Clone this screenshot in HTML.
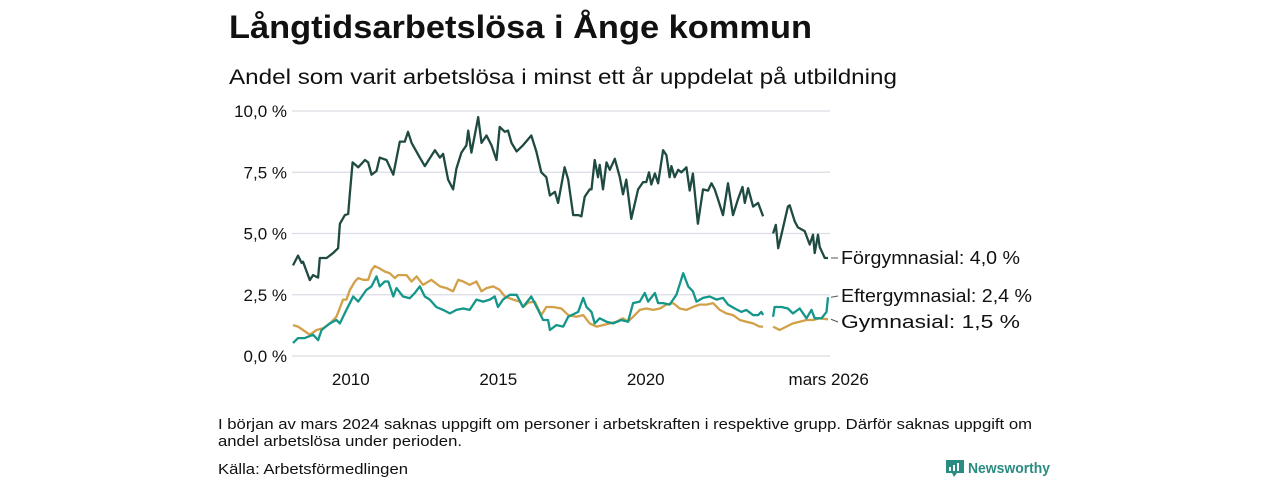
<!DOCTYPE html>
<html><head><meta charset="utf-8"><style>
body{margin:0;background:#fff;}
svg{display:block;font-family:"Liberation Sans",sans-serif;}
</style></head><body>
<svg id="chart" width="1280" height="480" viewBox="0 0 1280 480" xmlns="http://www.w3.org/2000/svg">
<text x="229" y="38" font-size="32" font-weight="bold" fill="#111" textLength="583" lengthAdjust="spacingAndGlyphs">Långtidsarbetslösa i Ånge kommun</text>
<text x="229" y="84" font-size="21" fill="#111" textLength="668" lengthAdjust="spacingAndGlyphs">Andel som varit arbetslösa i minst ett år uppdelat på utbildning</text>
<g id="grid"></g><g id="lines"></g><g id="labels"></g>
<text x="218" y="429" font-size="15" fill="#111" textLength="814" lengthAdjust="spacingAndGlyphs">I början av mars 2024 saknas uppgift om personer i arbetskraften i respektive grupp. Därför saknas uppgift om</text>
<text x="218" y="446" font-size="15" fill="#111" textLength="244" lengthAdjust="spacingAndGlyphs">andel arbetslösa under perioden.</text>
<text x="218" y="474" font-size="15" fill="#111" textLength="190" lengthAdjust="spacingAndGlyphs">Källa: Arbetsförmedlingen</text>
<g>
<path d="M946 460h18v13h-7l-3 4-2-4h-6z" fill="#2a8c80"/>
<rect x="949" y="467" width="2" height="4" fill="#fff"/><rect x="953" y="465" width="2" height="6" fill="#fff"/><rect x="957" y="463" width="2" height="8" fill="#fff"/>
<text x="968" y="473" font-size="15" font-weight="bold" fill="#2a8c80" textLength="82" lengthAdjust="spacingAndGlyphs">Newsworthy</text>
</g>
</svg>
<script>
const yTicks=[0,2.5,5,7.5,10];
const yTickLabels=["0,0 %","2,5 %","5,0 %","7,5 %","10,0 %"];
const xTicks=[2010,2015,2020,2026.17];
const xTickLabels=["2010","2015","2020","mars 2026"];
const forgYears=[2008.04,2008.21,2008.33,2008.38,2008.61,2008.72,2008.89,2008.95,2009.18,2009.40,2009.57,2009.63,2009.80,2009.91,2009.97,2010.06,2010.25,2010.48,2010.59,2010.70,2010.87,2010.98,2011.21,2011.44,2011.66,2011.83,2011.94,2012.06,2012.34,2012.51,2012.85,2013.02,2013.13,2013.30,2013.47,2013.58,2013.75,2013.92,2013.98,2014.09,2014.20,2014.32,2014.43,2014.60,2014.77,2014.94,2015.05,2015.22,2015.33,2015.45,2015.62,2015.84,2016.12,2016.29,2016.46,2016.63,2016.75,2016.92,2017.03,2017.25,2017.37,2017.54,2017.71,2017.82,2017.93,2018.10,2018.16,2018.27,2018.38,2018.44,2018.55,2018.67,2018.78,2018.95,2019.12,2019.23,2019.34,2019.51,2019.74,2019.91,2020.02,2020.11,2020.19,2020.31,2020.42,2020.59,2020.70,2020.81,2020.87,2020.98,2021.10,2021.21,2021.38,2021.49,2021.60,2021.77,2021.94,2022.11,2022.23,2022.34,2022.45,2022.62,2022.79,2022.96,2023.13,2023.28,2023.36,2023.47,2023.64,2023.81,2023.98,2024.15,2024.32,2024.41,2024.49,2024.60,2024.82,2024.88,2025.05,2025.16,2025.39,2025.56,2025.67,2025.73,2025.84,2025.90,2026.07,2026.18];
const forgValues=[3.7,4.1,3.8,3.85,3.1,3.3,3.2,4.0,4.0,4.2,4.4,5.4,5.75,5.8,6.65,7.9,7.7,8.0,7.9,7.4,7.55,8.1,8.0,7.4,8.75,8.75,9.15,8.7,8.1,7.75,8.4,8.1,8.25,7.2,6.8,7.65,8.3,8.6,9.2,8.3,9.0,9.75,8.7,9.0,8.6,8.0,9.35,9.15,9.2,8.7,8.35,8.6,9.0,8.35,7.5,7.3,6.55,6.7,6.25,7.7,7.2,5.75,5.75,5.7,6.5,6.8,6.8,8.0,7.3,7.8,6.8,7.9,7.6,8.05,7.3,6.6,7.2,5.6,6.8,7.1,7.1,7.5,7.0,7.45,7.05,8.4,8.2,7.3,7.75,7.3,7.6,7.5,7.7,6.75,7.45,5.4,6.8,6.75,7.05,6.8,6.4,5.75,7.05,5.75,6.4,6.9,6.25,6.85,6.1,6.25,5.7,null,5.0,5.35,4.4,4.95,6.1,6.15,5.5,5.25,5.1,4.55,4.95,4.2,4.95,4.45,4.0,4.0];
const efterYears=[2008.04,2008.21,2008.44,2008.72,2008.89,2009.01,2009.29,2009.51,2009.63,2009.85,2010.08,2010.25,2010.53,2010.70,2010.87,2010.98,2011.15,2011.27,2011.44,2011.55,2011.77,2012.00,2012.17,2012.34,2012.51,2012.68,2012.90,2013.13,2013.36,2013.58,2013.81,2014.03,2014.26,2014.49,2014.71,2014.88,2014.99,2015.16,2015.39,2015.62,2015.84,2016.12,2016.35,2016.52,2016.69,2016.75,2016.97,2017.20,2017.37,2017.71,2017.88,2017.99,2018.16,2018.27,2018.44,2018.67,2018.89,2019.17,2019.40,2019.57,2019.80,2019.97,2020.08,2020.31,2020.42,2020.59,2020.81,2021.04,2021.27,2021.44,2021.60,2021.72,2021.94,2022.17,2022.40,2022.62,2022.79,2023.02,2023.24,2023.41,2023.64,2023.81,2023.92,2023.98,2024.15,2024.32,2024.37,2024.60,2024.82,2024.99,2025.22,2025.45,2025.62,2025.73,2025.96,2026.13,2026.18];
const efterValues=[0.53,0.73,0.73,0.87,0.65,1.06,1.33,1.47,1.33,1.88,2.43,2.22,2.7,2.84,3.25,2.84,3.04,3.04,2.43,2.77,2.43,2.36,2.57,2.84,2.43,2.3,2.0,1.88,1.74,1.88,1.94,1.88,2.3,2.22,2.3,2.43,2.0,2.3,2.5,2.5,2.0,2.43,1.88,1.47,1.47,1.06,1.26,1.2,1.6,1.8,2.37,2.0,1.8,1.33,1.54,1.4,1.33,1.47,1.4,2.16,2.22,2.57,2.22,2.57,2.16,2.16,2.1,2.5,3.38,2.84,2.64,2.22,2.37,2.43,2.3,2.37,2.1,1.94,1.8,1.88,1.67,1.67,1.8,1.67,null,1.6,2.0,2.0,1.94,1.74,1.94,1.54,1.88,1.54,1.54,1.8,2.4];
const gymYears=[2008.04,2008.21,2008.38,2008.61,2008.84,2009.06,2009.29,2009.51,2009.74,2009.85,2009.97,2010.14,2010.25,2010.42,2010.59,2010.70,2010.81,2010.98,2011.15,2011.32,2011.49,2011.60,2011.89,2012.06,2012.23,2012.45,2012.73,2013.02,2013.24,2013.47,2013.64,2013.81,2014.03,2014.26,2014.43,2014.60,2014.83,2015.05,2015.22,2015.50,2015.73,2015.84,2016.01,2016.24,2016.46,2016.63,2016.86,2017.14,2017.37,2017.65,2017.88,2018.10,2018.33,2018.55,2018.78,2019.01,2019.23,2019.40,2019.57,2019.80,2020.02,2020.25,2020.48,2020.70,2020.93,2021.15,2021.38,2021.60,2021.83,2022.06,2022.28,2022.51,2022.73,2022.96,2023.19,2023.41,2023.64,2023.86,2023.98,2024.15,2024.32,2024.54,2024.77,2024.99,2025.22,2025.45,2025.67,2025.90,2026.18];
const gymValues=[1.26,1.2,1.06,0.87,1.06,1.13,1.33,1.6,2.3,2.3,2.7,3.04,3.18,3.11,3.11,3.5,3.67,3.57,3.45,3.38,3.18,3.3,3.3,3.04,3.25,2.9,3.11,2.84,2.77,2.64,3.11,3.04,2.9,3.04,2.64,2.77,2.84,2.7,2.43,2.3,2.22,2.0,2.18,2.22,1.67,2.0,2.0,1.94,1.67,1.6,1.67,1.33,1.2,1.26,1.33,1.4,1.54,1.4,1.6,1.88,1.94,1.88,1.94,2.1,2.16,1.94,1.88,2.0,2.1,2.1,2.16,1.88,1.74,1.67,1.47,1.4,1.33,1.2,1.2,null,1.2,1.06,1.2,1.33,1.4,1.47,1.47,1.54,1.5];
const seriesNames=["Förgymnasial","Eftergymnasial","Gymnasial"];
const lastLabels=["4,0 %","2,4 %","1,5 %"];

const NS="http://www.w3.org/2000/svg";
const X0=293,X1=828,Y0=356,Y1=111;
const xMin=2008.04,xMax=2026.18;
const xs=v=>X0+(v-xMin)/(xMax-xMin)*(X1-X0);
const ys=v=>Y0-(v/10)*(Y0-Y1);
function mk(tag,attrs,parent){const e=document.createElementNS(NS,tag);for(const k in attrs)e.setAttribute(k,attrs[k]);parent.appendChild(e);return e;}
const grid=document.getElementById('grid');
yTicks.forEach((t,i)=>{
  const l=mk('line',{x1:292,x2:830,y1:ys(t),y2:ys(t),stroke:'#dcdce4','stroke-width':1.3},grid);
  
  
  const tx=mk('text',{x:287,y:ys(t)+6,'text-anchor':'end','font-size':17,fill:'#111'},grid);
  tx.textContent=yTickLabels[i];
  
  
});
xTicks.forEach((t,i)=>{
  const tx=mk('text',{x:xs(t)+(i==3?1:0),y:385,'text-anchor':'middle','font-size':17,fill:'#111'},grid);
  tx.textContent=xTickLabels[i];
  
  
});
const lines=document.getElementById('lines');
const cols=['#1f4a42','#14968a','#d2a048'];
const sets=[[forgYears,forgValues],[efterYears,efterValues],[gymYears,gymValues]];
const order=[2,1,0];
order.forEach(si=>{
  const [yrs,vals]=sets[si];let d='',pen=false;
  yrs.forEach((y,i)=>{const v=vals[i];if(v===null){pen=false;return;}d+=(pen?'L':'M')+xs(y).toFixed(1)+' '+ys(v).toFixed(1);pen=true;});
  const p=mk('path',{d:d,fill:'none',stroke:cols[si],'stroke-width':2.3,'stroke-linejoin':'round'},lines);
  
  
});
const labels=document.getElementById('labels');
const labelY=[258,296,322];
const labelW=[179,191,179];
sets.forEach(([yrs,vals],si)=>{
  const ly=ys(vals[vals.length-1]);
  mk('line',{x1:831,y1:ly,x2:838,y2:labelY[si],stroke:'#555','stroke-width':1},labels);
  const tx=mk('text',{x:841,y:labelY[si]+6,'font-size':18,fill:'#111',textLength:labelW[si],lengthAdjust:'spacingAndGlyphs'},labels);
  tx.textContent=seriesNames[si]+': '+lastLabels[si];
  
  
});
</script>
</body></html>
